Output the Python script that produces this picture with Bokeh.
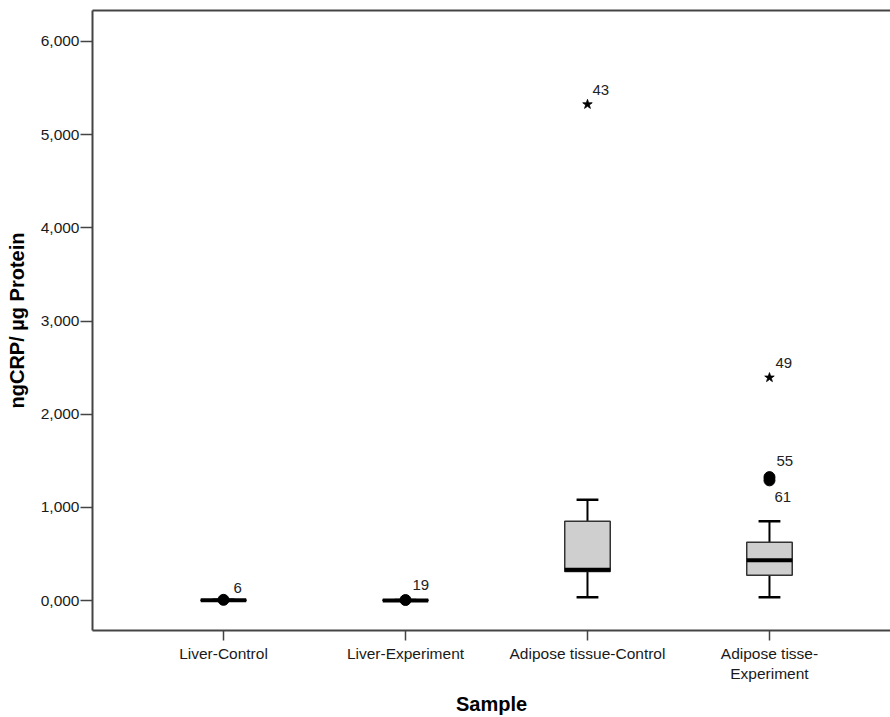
from bokeh.plotting import figure
from bokeh.models import Range1d, LinearAxis, FixedTicker, ColumnDataSource
from bokeh.embed import file_html
from bokeh.resources import INLINE

# ---- data ----
categories = ["Liver-Control", "Liver-Experiment", "Adipose tissue-Control", "Adipose tisse-Experiment"]
tick_labels = ["Liver-Control", "Liver-Experiment", "Adipose tissue-Control", "Adipose tisse-\nExperiment"]
q1 = [0, 0, 312, 271]
median = [3, 2, 330, 434]
q3 = [6, 5, 850, 625]
whisker_low = [0, 0, 35, 35]
whisker_high = [8, 6, 1082, 850]

outlier_cat = [0, 1, 3, 3]
outlier_val = [8, 6, 1325, 1290]
outlier_id = ["6", "19", "55", "61"]

extreme_cat = [2, 3]
extreme_val = [5325, 2393]
extreme_id = ["43", "49"]

y_ticks = [0, 1000, 2000, 3000, 4000, 5000, 6000]
y_tick_labels = ["0,000", "1,000", "2,000", "3,000", "4,000", "5,000", "6,000"]

# ---- styling / layout ----
FONT = "Liberation Sans"
AX = "#444444"
box_half = 0.125
cap_half = 0.06
outlier_dx = [10, 7, 7, 5]
outlier_dy = [-12, -15, -16, 17]
extreme_dx = [5, 6]
extreme_dy = [-14, -15]

pos = [i + 1 for i in range(len(categories))]

p = figure(width=890, height=717, output_backend="svg", toolbar_location=None,
           x_range=Range1d(0.2802, 4.665), y_range=Range1d(-321, 6332),
           min_border_left=92, min_border_right=0, min_border_top=10, min_border_bottom=86,
           background_fill_color="white", border_fill_color="white")
p.outline_line_color = None
p.grid.visible = False

# whiskers
p.segment(x0=pos, y0=q3, x1=pos, y1=whisker_high, line_color="black", line_width=2)
p.segment(x0=pos, y0=whisker_low, x1=pos, y1=q1, line_color="black", line_width=2)
p.segment(x0=[x - cap_half for x in pos], y0=whisker_high, x1=[x + cap_half for x in pos], y1=whisker_high,
          line_color="black", line_width=2.5)
p.segment(x0=[x - cap_half for x in pos], y0=whisker_low, x1=[x + cap_half for x in pos], y1=whisker_low,
          line_color="black", line_width=2.5)
# boxes
p.quad(left=[x - box_half for x in pos], right=[x + box_half for x in pos], bottom=q1, top=q3,
       fill_color="#cfcfcf", line_color="#333333", line_width=1.5)
# medians
p.segment(x0=[x - box_half for x in pos], y0=median, x1=[x + box_half for x in pos], y1=median,
          line_color="black", line_width=4)

# outliers
osrc = ColumnDataSource(dict(x=[pos[c] for c in outlier_cat], y=outlier_val, t=outlier_id,
                             dx=outlier_dx, dy=outlier_dy))
p.scatter("x", "y", source=osrc, marker="circle", size=11, fill_color="black", line_color="black")
p.text("x", "y", text="t", source=osrc, x_offset="dx", y_offset="dy", text_align="left",
       text_baseline="middle", text_font_size="15px", text_font={"value": FONT}, text_color="#222222")

# extremes
esrc = ColumnDataSource(dict(x=[pos[c] for c in extreme_cat], y=extreme_val, t=extreme_id,
                             dx=extreme_dx, dy=extreme_dy))
p.scatter("x", "y", source=esrc, marker="star", size=10, fill_color="black", line_color="black",
          line_width=0.8)
p.text("x", "y", text="t", source=esrc, x_offset="dx", y_offset="dy", text_align="left",
       text_baseline="middle", text_font_size="15px", text_font={"value": FONT}, text_color="#222222")

# axes
xa = p.xaxis[0]
xa.ticker = FixedTicker(ticks=pos)
xa.major_label_overrides = {pos[i]: tick_labels[i] for i in range(len(pos))}
xa.minor_tick_line_color = None
xa.major_tick_in = 0
xa.major_tick_out = 10
xa.major_label_standoff = 4
xa.axis_label = "Sample"
xa.axis_label_standoff = 8

ya = p.yaxis[0]
ya.ticker = FixedTicker(ticks=y_ticks)
ya.major_label_overrides = {y_ticks[i]: y_tick_labels[i] for i in range(len(y_ticks))}
ya.minor_tick_line_color = None
ya.major_tick_in = 0
ya.major_tick_out = 12
ya.major_label_standoff = 1
ya.axis_label = "ngCRP/ µg Protein"
ya.axis_label_standoff = 10

for ax in (xa, ya):
    ax.axis_line_color = AX
    ax.axis_line_width = 2
    ax.major_tick_line_color = AX
    ax.major_tick_line_width = 1.5
    ax.major_label_text_font = FONT
    ax.major_label_text_font_size = "15.5px"
    ax.major_label_text_color = "#1a1a1a"
    ax.axis_label_text_font = FONT
    ax.axis_label_text_font_style = "bold"
    ax.axis_label_text_font_size = "20px"
    ax.axis_label_text_color = "black"

top = LinearAxis(ticker=FixedTicker(ticks=[]), axis_line_color=AX, axis_line_width=2,
                 major_tick_line_color=None, minor_tick_line_color=None,
                 major_label_text_font_size="0px")
p.add_layout(top, "above")

open("out.html", "w").write(file_html(p, INLINE))
